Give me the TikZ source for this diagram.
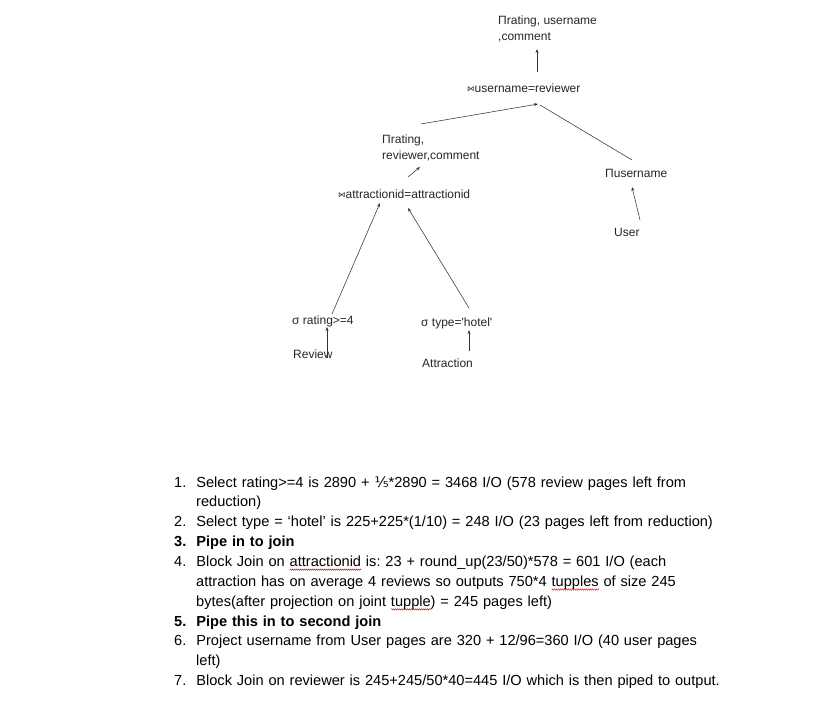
\documentclass[tikz,border=0pt]{standalone}
\usepackage{fontspec}
\setmainfont{Liberation Sans}
\newfontfamily\symfont{DejaVu Sans}
\usetikzlibrary{arrows.meta,calc,decorations.pathmorphing}

\newcommand{\joinsym}{\raisebox{1.2pt}{\symfont\fontsize{7.5}{7.5}\selectfont ⋈}}
\newcommand{\fifth}{{\symfont ⅕}}
\newlength{\wordwd}
\newcommand{\spellwave}[1]{\settowidth{\wordwd}{#1}%
  \rlap{\tikz[baseline=0pt,x=1pt,y=1pt]\draw[red,line width=0.45pt,decorate,
    decoration={zigzag,amplitude=0.7pt,segment length=2pt}] (0,-3.2) -- (\wordwd,-3.2);}#1}

\begin{document}
\begin{tikzpicture}[x=1pt,y=-1pt,
    every node/.style={inner sep=0pt,align=left,text=black!85,
      font=\fontsize{12}{16.5}\selectfont},
    op/.style={anchor=base west},
    opbox/.style={anchor=north west},
    arr/.style={-{Stealth[length=4pt,width=3pt]},black!80,line width=0.55pt},
    tie/.style={black!80,line width=0.55pt}]
\useasboundingbox (0,0) rectangle (819,711);

% query tree
\node[opbox] (res) at (498,15.5) {Πrating, username\\,comment};
\node[op] (j2) at (467,93) {\joinsym username=reviewer};
\node[opbox] (p1) at (382,134.5) {Πrating,\\reviewer,comment};
\node[op] (pu) at (605,178) {Πusername};
\node[op] (user) at (614,237) {User};
\node[op] (j1) at (338,199) {\joinsym attractionid=attractionid};
\node[op] (s1) at (292,324) {σ rating>=4};
\node[op] (s2) at (421,326) {σ type=\textquotesingle hotel\textquotesingle};
\node[op] (rev) at (293,358) {Review};
\node[op] (att) at (422,367) {Attraction};

\draw[arr] ($(j2.base west)+(70,-21)$) -- ($(res.north west)+(39,33.5)$);
\draw[arr] ($(p1.north west)+(39,-10.5)$) -- ($(j2.base west)+(71,11)$);
\draw[tie] ($(j2.base west)+(73,12)$) -- ($(pu.base west)+(27,-18)$);
\draw[arr] ($(j1.base west)+(70,-22)$) -- ($(p1.north west)+(38,32.5)$);
\draw[arr] ($(user.base west)+(26,-17)$) -- ($(pu.base west)+(27,9)$);
\draw[arr] ($(s1.base west)+(40,-10)$) -- ($(j1.base west)+(42,4)$);
\draw[arr] ($(s2.base west)+(48,-18)$) -- ($(j1.base west)+(70,9)$);
\draw[arr] ($(rev.base west)+(34,0)$) -- ($(s1.base west)+(35,3)$);
\draw[arr] ($(att.base west)+(47,-16)$) -- ($(s2.base west)+(48,4)$);

% cost steps
\node[opbox,text=black,text width=630pt,font=\fontsize{14.6}{19.85}\selectfont]
  (steps) at (174,467) {\frenchspacing\raggedright
\begin{list}{}{\setlength{\leftmargin}{22pt}\setlength{\labelwidth}{12pt}%
  \setlength{\labelsep}{10pt}\setlength{\itemsep}{0pt}\setlength{\parsep}{0pt}%
  \setlength{\topsep}{0pt}\setlength{\partopsep}{0pt}}
\item[1.] Select rating>=4 is 2890 + \fifth*2890 = 3468 I/O (578 review pages left from\newline reduction)
\item[2.] Select type = ‘hotel’ is 225+225*(1/10) = 248 I/O (23 pages left from reduction)
\item[\textbf{3.}] \textbf{Pipe in to join}
\item[4.] Block Join on \spellwave{attractionid} is: 23 + round\_up(23/50)*578 = 601 I/O (each\newline
  attraction has on average 4 reviews so outputs 750*4 \spellwave{tupples} of size 245\newline
  bytes(after projection on joint \spellwave{tupple}) = 245 pages left)
\item[\textbf{5.}] \textbf{Pipe this in to second join}
\item[6.] Project username from User pages are 320 + 12/96=360 I/O (40 user pages\newline left)
\item[7.] Block Join on reviewer is 245+245/50*40=445 I/O which is then piped to output.
\end{list}};
\end{tikzpicture}
\end{document}
